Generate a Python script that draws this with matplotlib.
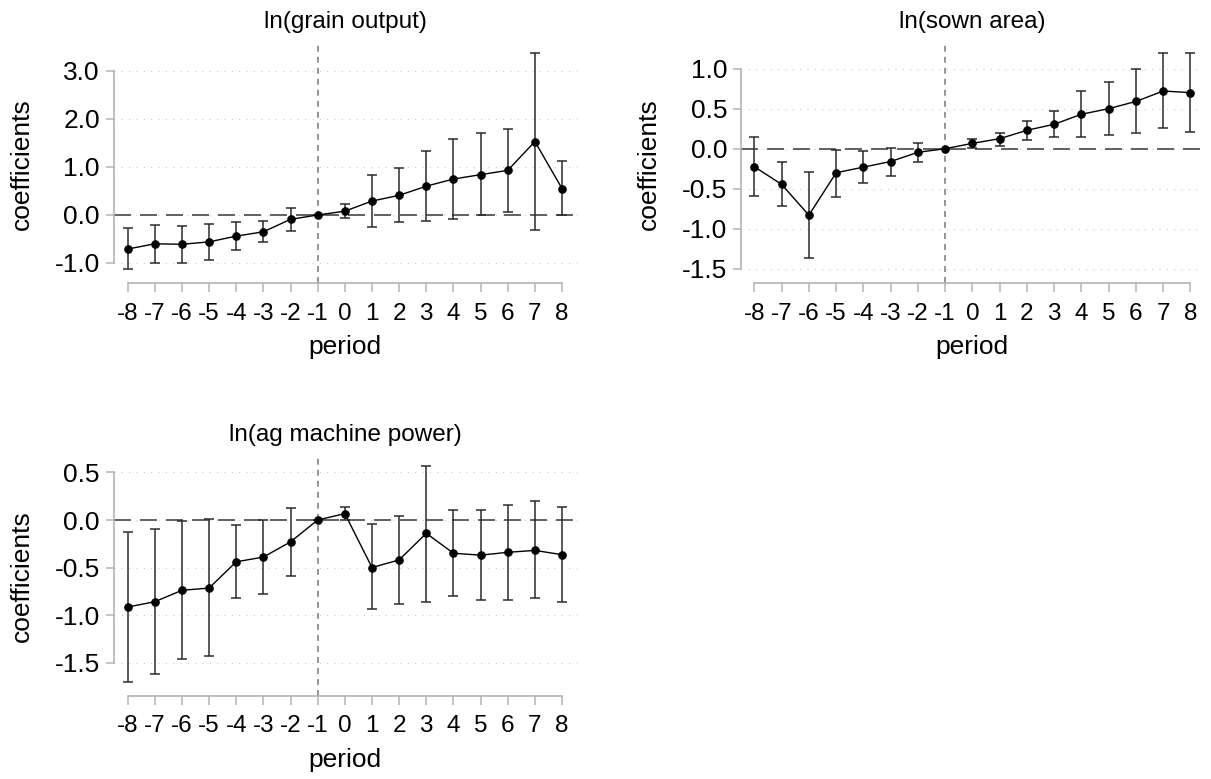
import numpy as np
import matplotlib.pyplot as plt

plt.rcParams['font.family'] = ['Liberation Sans', 'DejaVu Sans']

periods = list(range(-8, 9))

# ln(grain output)
grain_coef = [-0.71, -0.60, -0.61, -0.56, -0.44, -0.35, -0.09, 0.0, 0.08,
              0.29, 0.41, 0.60, 0.75, 0.84, 0.93, 1.53, 0.55]
grain_lo = [-1.12, -1.01, -0.99, -0.94, -0.72, -0.57, -0.33, 0.0, -0.07,
            -0.24, -0.15, -0.12, -0.08, -0.01, 0.06, -0.32, 0.0]
grain_hi = [-0.28, -0.20, -0.22, -0.19, -0.15, -0.13, 0.15, 0.0, 0.23,
            0.83, 0.97, 1.33, 1.58, 1.71, 1.80, 3.38, 1.12]

# ln(sown area)
sown_coef = [-0.225, -0.445, -0.83, -0.30, -0.23, -0.16, -0.045, 0.0, 0.067,
             0.125, 0.23, 0.305, 0.43, 0.50, 0.59, 0.72, 0.70]
sown_lo = [-0.59, -0.72, -1.36, -0.60, -0.43, -0.34, -0.16, 0.0, 0.013,
           0.04, 0.105, 0.145, 0.15, 0.17, 0.20, 0.26, 0.21]
sown_hi = [0.14, -0.17, -0.29, -0.02, -0.025, 0.01, 0.075, 0.0, 0.125,
           0.20, 0.35, 0.47, 0.72, 0.83, 0.99, 1.195, 1.20]

# ln(ag machine power)
mach_coef = [-0.916, -0.86, -0.74, -0.716, -0.44, -0.39, -0.23, 0.0, 0.067,
             -0.50, -0.42, -0.14, -0.35, -0.37, -0.34, -0.32, -0.365]
mach_lo = [-1.70, -1.62, -1.46, -1.43, -0.82, -0.78, -0.59, 0.0, 0.0,
           -0.94, -0.88, -0.86, -0.80, -0.84, -0.845, -0.82, -0.86]
mach_hi = [-0.13, -0.09, -0.01, 0.007, -0.056, 0.0, 0.13, 0.0, 0.14,
           -0.045, 0.04, 0.57, 0.11, 0.11, 0.155, 0.20, 0.14]

grain_ticks = [-1.0, 0.0, 1.0, 2.0, 3.0]
sown_ticks = [-1.5, -1.0, -0.5, 0.0, 0.5, 1.0]
mach_ticks = [-1.5, -1.0, -0.5, 0.0, 0.5]

W, H = 1211, 779
fig = plt.figure(figsize=(W / 100, H / 100), dpi=100)

spine_col = '#b4b4b4'


def panel(rect_px, coef, lo, hi, yticks, xlim, ylim, title, ylab_x):
    l, t, r, b = rect_px
    ax = fig.add_axes([l / W, 1 - b / H, (r - l) / W, (b - t) / H])
    ax.set_xlim(*xlim)
    ax.set_ylim(*ylim)

    # dotted grid + reference lines
    for yv in yticks:
        ax.axhline(yv, color='#c4c4c4', lw=0.8, dashes=(0.9, 5.7), zorder=1)
    ax.axhline(0, color='#555555', lw=1.3, dashes=(9.4, 5.0), zorder=2)
    ax.axvline(-1, color='#8c8c8c', lw=1.3, dashes=(3.3, 2.8), zorder=2)

    c = np.array(coef)
    yerr = [c - np.array(lo), np.array(hi) - c]
    ax.errorbar(periods, coef, yerr=yerr, fmt='none', ecolor='#2b2b2b',
                elinewidth=1.1, capsize=3.3, capthick=1.1, zorder=3)
    ax.plot(periods, coef, color='black', lw=1.0, marker='o', ms=5.2,
            zorder=4)

    for s in ['top', 'right']:
        ax.spines[s].set_visible(False)
    for s in ['left', 'bottom']:
        ax.spines[s].set_color(spine_col)
        ax.spines[s].set_linewidth(1.2)
    ax.spines['left'].set_bounds(min(yticks), max(yticks))
    ax.spines['bottom'].set_bounds(-8, 8)

    ax.set_yticks(yticks)
    ax.set_yticklabels([f'{v:.1f}' for v in yticks])
    ax.set_xticks(periods)
    ax.set_xticklabels([str(p) for p in periods])
    ax.tick_params(axis='y', length=5.8, width=1.1, color=spine_col,
                   labelsize=19, pad=4)
    ax.tick_params(axis='x', length=6.5, width=1.1, color=spine_col,
                   labelsize=17.5, pad=7.5)

    hgt = b - t
    wid = r - l
    ax.set_ylabel('coefficients', fontsize=19, va='center')
    ax.yaxis.set_label_coords((ylab_x - l) / wid, 0.5)
    ax.set_xlabel('period', fontsize=19, va='center')
    ax.xaxis.set_label_coords(0.5, -64 / hgt)
    ax.text(0.5, 1 + 22 / hgt, title, transform=ax.transAxes, ha='center',
            va='center', fontsize=17.5)
    return ax


panel((113.5, 44, 577, 283.3), grain_coef, grain_lo, grain_hi, grain_ticks,
      (-8.52, 8.55), (-1.423, 3.5625), 'ln(grain output)', 22)
panel((741, 44, 1203, 283.3), sown_coef, sown_lo, sown_hi, sown_ticks,
      (-8.49, 8.46), (-1.68, 1.307), 'ln(sown area)', 649)
panel((113.5, 457, 577, 695.7), mach_coef, mach_lo, mach_hi, mach_ticks,
      (-8.52, 8.55), (-1.849, 0.663), 'ln(ag machine power)', 22)

fig.savefig('out.png', dpi=100, facecolor='white')
